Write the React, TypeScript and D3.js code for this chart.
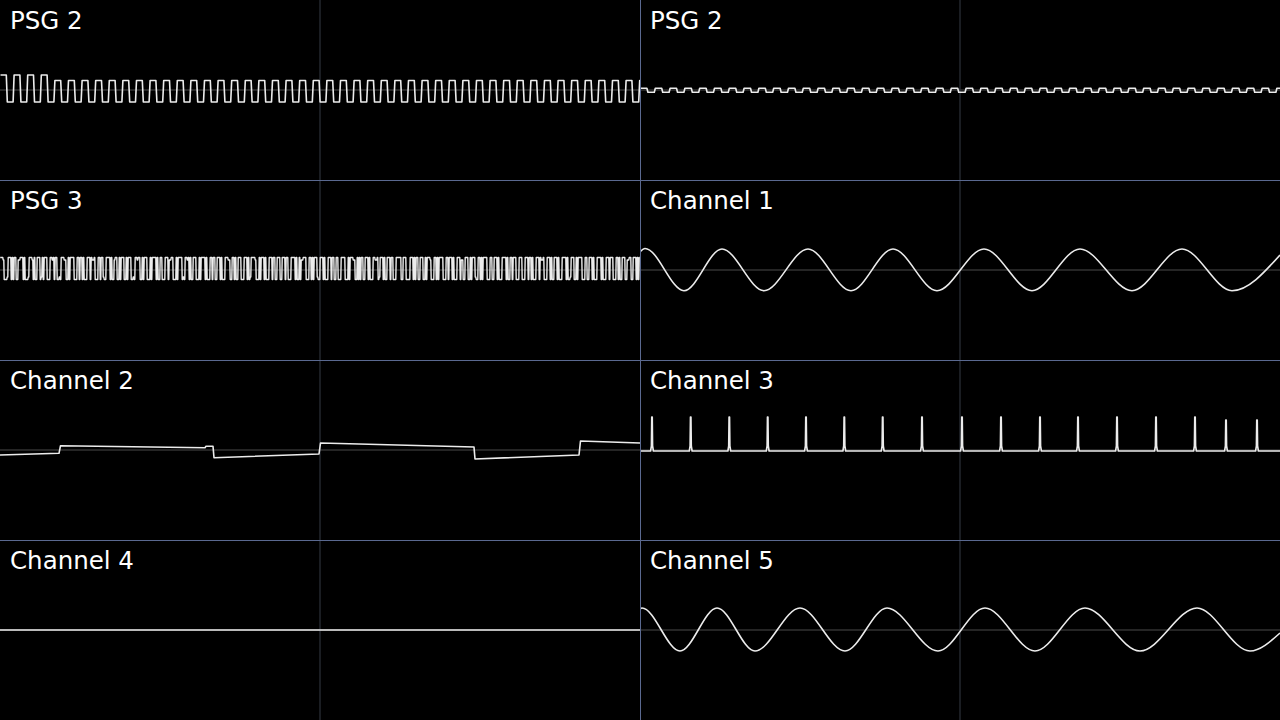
import React from "react";
import * as d3 from "d3";

const W = 1280;
const H = 720;
const PW = 640;
const PH = 180;

// Panels in reading order (row-major, 2 columns x 4 rows)
const panelLabels = ["PSG 2", "PSG 2", "PSG 3", "Channel 1", "Channel 2", "Channel 3", "Channel 4", "Channel 5"];

// Time axis of every panel: 0..640 samples; amplitude axis: -90..90 (up positive)
const timeDomain = [0, 640];
const ampDomain = [-90, 90];

// PSG 2 (left): square wave, one high level per cycle
const psg2LeftPeriod = 13.6;
const psg2LeftLow = -12;
const psg2LeftHighs = [
  15, 15, 15, 15, 9.5, 9.5, 9.5, 9.5, 9.5, 9.5, 9.5, 9.5, 9.5, 9.5, 9.5, 9.5,
  9.5, 9.5, 9.5, 9.5, 9.5, 9.5, 9.5, 9.5, 9.5, 9.5, 9.5, 9.5, 9.5, 9.5, 9.5, 9.5,
  9.5, 9.5, 9.5, 9.5, 9.5, 9.5, 9.5, 9.5, 9.5, 9.5, 9.5, 9.5, 9.5, 9.5, 9.5, 9.5,
];

// PSG 2 (right): small square wave
const psg2RightPeriod = 14.8;
const psg2RightLow = -2.3;
const psg2RightHighs = [
  1.8, 1.8, 1.8, 1.8, 1.8, 1.8, 1.8, 1.8, 1.8, 1.8, 1.8, 1.8, 1.8, 1.8, 1.8,
  1.8, 1.8, 1.8, 1.8, 1.8, 1.8, 1.8, 1.8, 1.8, 1.8, 1.8, 1.8, 1.8, 1.8, 1.8,
  1.8, 1.8, 1.8, 1.8, 1.8, 1.8, 1.8, 1.8, 1.8, 1.8, 1.8, 1.8, 1.8, 1.8,
];

// PSG 3: noise levels, one per sample, read left to right
// 1 = high, 2 = lower high, 0 = low, 9 = higher low
const psg3Bits = [
  "1112000911101011002211101000911120100111",
  "0910111000112101100901112200101111000110",
  "1101000111012210001101190011110100211001",
  "0111001011100901121100101110001011110100",
  "1100011102211000101111090112101001110001",
  "0111101000110110011101000111220011010011",
  "1000111010911112000101110100011101100111",
  "0011101100011110100102211100011010111900",
  "1110100011101100110001111000101112200101",
  "0110011101000112210911101001110110001111",
  "1001110000111010110011100101112000110101",
  "1110001101110100011102200111001011190011",
  "0101111000110011101000111101001101110001",
  "1100011101101000111012210001110100111010",
  "0011110100911100101111000110011101000111",
  "1010001110111000110100111002211001110101",
].join("");
const psg3Levels: Record<string, number> = { "1": 12.5, "2": 10, "0": -9.5, "9": -7 };

// Channel 1: sine-like tone, extrema [time, amplitude]
const ch1Extrema: [number, number][] = [
  [0, 18], [5, 21.5], [44, -20.7], [82, 21], [124, -20.7], [168, 21], [211, -20.7],
  [253, 21], [297, -20.7], [344, 21], [392, -20.7], [440, 21], [492, -20.7],
  [542, 21], [592, -20.7], [640, 15],
];

// Channel 2: piecewise-linear slow envelope, vertices [time, amplitude]
const ch2Vertices: [number, number][] = [
  [0, -5], [59, -3.3], [60.5, 4.3], [205, 2.3], [206, 3.7], [213, 3.7], [214, -7.7],
  [319, -4], [320.5, 7], [474, 3], [475, -9], [579, -5], [580.5, 9], [640, 7],
];

// Channel 3: spike train
const ch3SpikeTimes = [12, 50.7, 89.3, 127.7, 166, 204.3, 242.7, 282, 322, 361, 400, 438, 477, 516, 555, 586, 617];
const ch3SpikeHeights = [33, 33, 33, 33, 33, 33, 33, 33, 33, 33, 33, 33, 33, 33, 33, 30, 30];
const ch3Base = -1;

// Channel 4: silent
const ch4Vertices: [number, number][] = [[0, 0], [640, 0]];

// Channel 5: sine-like tone, extrema [time, amplitude]
const ch5Extrema: [number, number][] = [
  [0, 21], [2, 22], [40, -21], [77, 22], [115, -21], [160, 22], [205, -21],
  [247, 22], [298, -21], [345, 22], [395, -21], [445, 22], [500, -21],
  [557, 22], [610, -21], [640, -3],
];

function squarePoints(period: number, highs: number[], low: number): [number, number][] {
  const pts: [number, number][] = [];
  const e = 0.5;
  highs.forEach((h, i) => {
    const t0 = i * period;
    const t1 = t0 + period / 2;
    pts.push([t0 + e, h]);
    pts.push([t1 - e, h]);
    pts.push([t1 + e, low]);
    pts.push([t0 + period - e, low]);
  });
  return pts;
}

function noisePoints(bits: string): [number, number][] {
  const step = 640 / bits.length;
  const pts: [number, number][] = [];
  const e = 0.2;
  let i = 0;
  while (i < bits.length) {
    let j = i;
    while (j + 1 < bits.length && bits[j + 1] === bits[i]) j++;
    const v = psg3Levels[bits[i]];
    pts.push([i * step + e, v]);
    pts.push([(j + 1) * step - e, v]);
    i = j + 1;
  }
  return pts;
}

function spikePoints(): [number, number][] {
  const pts: [number, number][] = [[0, ch3Base]];
  ch3SpikeTimes.forEach((t, i) => {
    const h = ch3SpikeHeights[i];
    pts.push([t - 1.4, ch3Base]);
    pts.push([t - 0.6, 4]);
    pts.push([t - 0.25, h]);
    pts.push([t + 0.25, h]);
    pts.push([t + 0.6, 4]);
    pts.push([t + 1.4, ch3Base]);
  });
  pts.push([640, ch3Base]);
  return pts;
}

type Series = { pts: [number, number][]; curve: d3.CurveFactory; width: number };

const panelSeries: Series[] = [
  { pts: squarePoints(psg2LeftPeriod, psg2LeftHighs, psg2LeftLow), curve: d3.curveLinear, width: 1.6 },
  { pts: squarePoints(psg2RightPeriod, psg2RightHighs, psg2RightLow), curve: d3.curveLinear, width: 1.6 },
  { pts: noisePoints(psg3Bits), curve: d3.curveLinear, width: 1.4 },
  { pts: ch1Extrema, curve: d3.curveMonotoneX, width: 1.6 },
  { pts: ch2Vertices, curve: d3.curveLinear, width: 1.6 },
  { pts: spikePoints(), curve: d3.curveLinear, width: 1.6 },
  { pts: ch4Vertices, curve: d3.curveLinear, width: 1.6 },
  { pts: ch5Extrema, curve: d3.curveMonotoneX, width: 1.6 },
];

const FONT = "'DejaVu Sans', sans-serif";

export default function App() {
  const cols = 2;
  const rows = 4;
  return (
    <div style={{ position: "fixed", left: 0, top: 0, width: W, height: H, background: "#000" }}>
      <svg width={W} height={H} style={{ display: "block", background: "#000" }}>
        <rect x={0} y={0} width={W} height={H} fill="#000" />
        <defs>
          {panelLabels.map((_, i) => (
            <clipPath key={i} id={"clip" + i}>
              <rect x={(i % cols) * PW} y={Math.floor(i / cols) * PH} width={PW} height={PH} />
            </clipPath>
          ))}
        </defs>
        {panelLabels.map((label, i) => {
          const col = i % cols;
          const row = Math.floor(i / cols);
          const x0 = col * PW;
          const y0 = row * PH;
          const xs = d3.scaleLinear().domain(timeDomain).range([x0, x0 + PW]);
          const ys = d3.scaleLinear().domain(ampDomain).range([y0 + PH, y0]);
          const s = panelSeries[i];
          const line = d3
            .line<[number, number]>()
            .x((d) => xs(d[0]))
            .y((d) => ys(d[1]))
            .curve(s.curve);
          return (
            <g key={i}>
              <line x1={xs(0)} x2={xs(640)} y1={ys(0)} y2={ys(0)} stroke="#4a4a4a" strokeWidth={1} />
              <line x1={xs(320)} x2={xs(320)} y1={y0} y2={y0 + PH} stroke="#353a45" strokeWidth={1} />
              <path
                d={line(s.pts) || ""}
                fill="none"
                stroke="#ececec"
                strokeWidth={s.width}
                strokeLinejoin="round"
                clipPath={`url(#clip${i})`}
              />
              <text x={x0 + 10} y={y0 + 28.5} fill="#ffffff" fontFamily={FONT} fontSize={24.5}>
                {label}
              </text>
            </g>
          );
        })}
        {d3.range(1, rows).map((r) => (
          <line key={"h" + r} x1={0} x2={W} y1={r * PH + 0.5} y2={r * PH + 0.5} stroke="#5a6990" strokeWidth={1} />
        ))}
        <line x1={PW + 0.5} x2={PW + 0.5} y1={0} y2={H} stroke="#5a6990" strokeWidth={1} />
      </svg>
    </div>
  );
}
